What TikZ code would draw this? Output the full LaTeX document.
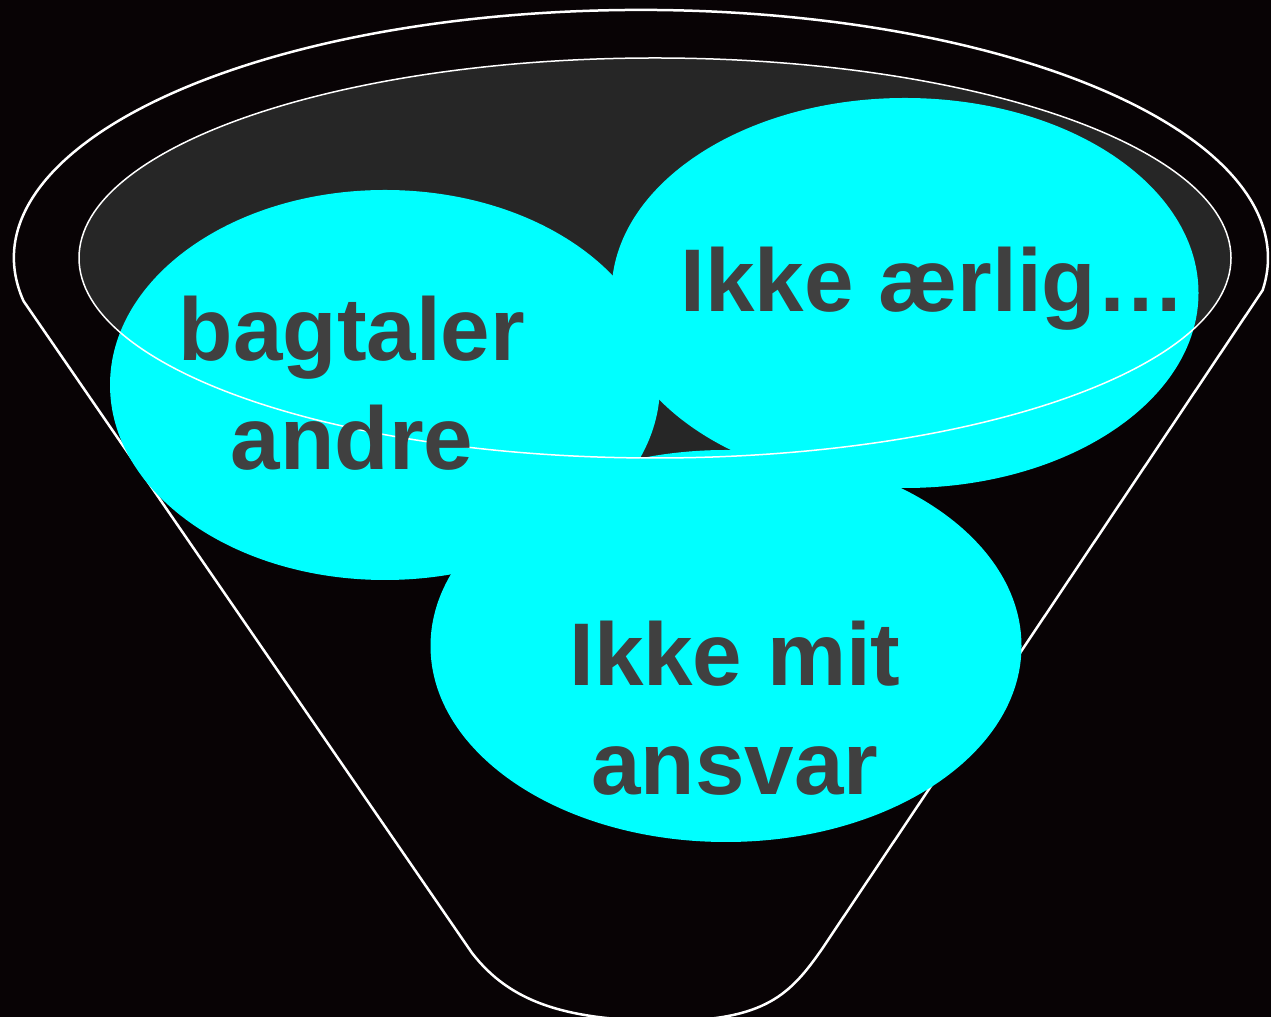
\documentclass[tikz,border=0pt]{standalone}
\usepackage{fontspec}
\setmainfont{Liberation Sans}
\usetikzlibrary{shapes.geometric}

\definecolor{bowlback}{RGB}{8,3,5}
\definecolor{rimgray}{RGB}{38,38,38}
\definecolor{blobcyan}{RGB}{0,255,255}
\definecolor{wordgray}{RGB}{64,64,64}

\tikzset{
    blob/.style={ellipse, fill=blobcyan, inner sep=0pt},
    word/.style={text=wordgray, font=\bfseries\fontsize{89}{109}\selectfont, align=center, inner sep=0pt},
    rimline/.style={draw=white, line width=1.5pt},
    funnelline/.style={draw=white, line width=2.5pt, line join=round},
}

\begin{document}
\begin{tikzpicture}[x=1pt,y=1pt]
    % Canvas
    \clip (0,0) rectangle (1271,1017);
    \fill[bowlback] (0,0) rectangle (1271,1017);

    % Funnel corners
    \coordinate (L1) at (23.5,716); % left end of the top rim
    \coordinate (L2) at (472,64);
    \coordinate (B) at (670,-4); % bottom, just below the edge
    \coordinate (R2) at (822,68);

    % Funnel outline
    \draw[funnelline] (L2) -- (L1)
        arc[start angle=190, end angle=-7.5, x radius=627, y radius=248]
        -- (R2) .. controls (790,22) and (765,-3) .. (B)
        .. controls (565,-4) and (510,15) .. (L2);

    % Inner rim, filled
    \coordinate (rim) at (655,759);
    \fill[rimgray] (rim) ellipse [x radius=576, y radius=200];

    % Three blobs
    \node[blob, minimum width=550, minimum height=390] (bag) at (385,632) {};
    \node[blob, minimum width=587, minimum height=390] (aerlig) at (905,724) {};
    \node[blob, minimum width=591, minimum height=392] (ansvar) at (726,371) {};

    % Rim line over the blobs
    \draw[rimline] (rim) ellipse [x radius=576, y radius=200];

    % Labels (base = last line)
    \node[word, anchor=base] (bagtxt) at (352,547) {bagtaler\\andre};
    \node[word, anchor=base] (aerligtxt) at (933,705) {Ikke ærlig…};
    \node[word, anchor=base] (ansvartxt) at (735,222) {Ikke mit\\ansvar};
\end{tikzpicture}
\end{document}
